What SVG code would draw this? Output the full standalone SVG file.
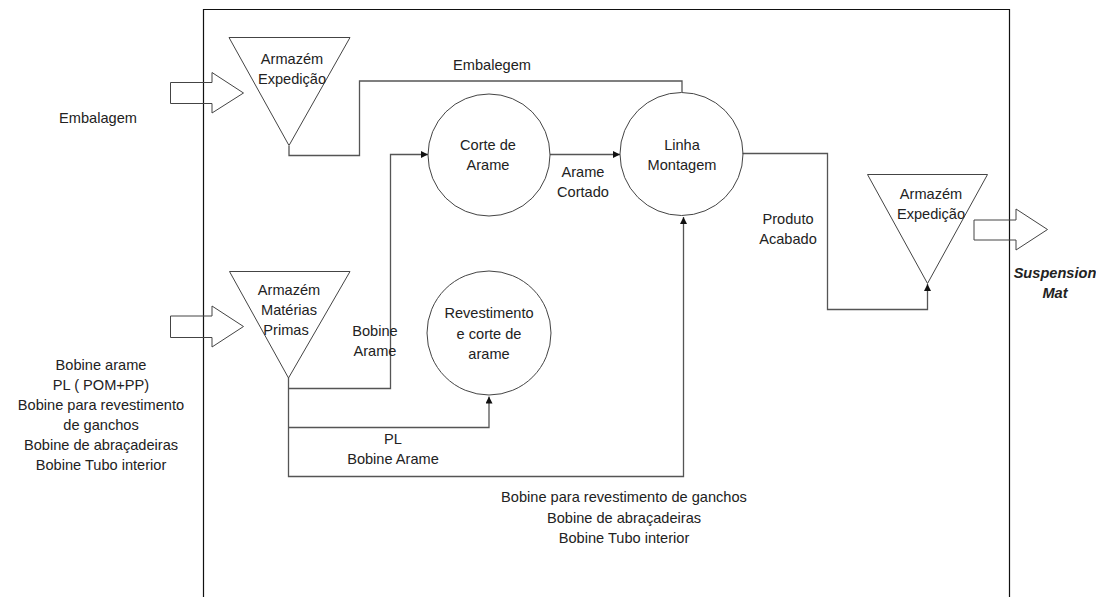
<svg xmlns="http://www.w3.org/2000/svg" width="1096" height="597" viewBox="0 0 1096 597">
<style>
  text { font-family: "Liberation Sans", Arial, sans-serif; font-size: 14.6px; fill: #222; text-anchor: middle; }
  .bi { font-weight: bold; font-style: italic; }
  .shape { fill: none; stroke: #444; stroke-width: 1; }
  .conn { fill: none; stroke: #555; stroke-width: 1.3; }
  .frame { fill: none; stroke: #111; stroke-width: 1.2; }
</style>
<defs>
  <marker id="arr" viewBox="0 0 10 10" refX="10" refY="5" markerWidth="7" markerHeight="7" markerUnits="userSpaceOnUse" orient="auto">
    <path d="M0,0 L10,5 L0,10 Z" fill="#111"/>
  </marker>
</defs>
<rect width="1096" height="597" fill="#fff"/>
<path class="frame" d="M203.5,600 V9.5 H1009.5 V600"/>

<g id="connectors">
  <path class="conn" d="M289,146 V155.5 H359.5 V81 H682 V92"/>
  <path class="conn" d="M288.5,378 V476.5 H683.5 V217" marker-end="url(#arr)"/>
  <path class="conn" d="M288.5,388.5 H390.5 V154.5 H428" marker-end="url(#arr)"/>
  <path class="conn" d="M288.5,427.5 H489 V396.5" marker-end="url(#arr)"/>
  <path class="conn" d="M550,154.5 H620" marker-end="url(#arr)"/>
  <path class="conn" d="M742.5,153.5 H827.5 V309.5 H927.5 V284" marker-end="url(#arr)"/>
  <text x="492" y="70">Embalegem</text>
  <text x="583" y="177">Arame</text>
  <text x="583" y="197">Cortado</text>
  <text x="375" y="336">Bobine</text>
  <text x="375" y="356">Arame</text>
  <text x="393" y="444">PL</text>
  <text x="393" y="464">Bobine Arame</text>
  <text x="624" y="502">Bobine para revestimento de ganchos</text>
  <text x="624" y="523">Bobine de abraçadeiras</text>
  <text x="624" y="543">Bobine Tubo interior</text>
  <text x="788" y="224">Produto</text>
  <text x="788" y="244">Acabado</text>
</g>

<g id="input-embalagem">
  <polygon class="shape" points="170.5,82.5 212,82.5 212,72.5 243.5,93 212,113 212,103.5 170.5,103.5"/>
  <text x="98" y="123">Embalagem</text>
</g>

<g id="armazem-expedicao-in">
  <polygon class="shape" points="229,37.5 350,37.5 289,145.5"/>
  <text x="292" y="64">Armazém</text>
  <text x="292" y="84">Expedição</text>
</g>

<g id="input-materias">
  <polygon class="shape" points="170.5,316 212,316 212,306 243.5,326.5 212,347 212,337.5 170.5,337.5"/>
  <text x="101" y="370">Bobine arame</text>
  <text x="101" y="390">PL ( POM+PP)</text>
  <text x="101" y="410">Bobine para revestimento</text>
  <text x="101" y="430">de ganchos</text>
  <text x="101" y="450">Bobine de abraçadeiras</text>
  <text x="101" y="470">Bobine Tubo interior</text>
</g>

<g id="armazem-materias-primas">
  <polygon class="shape" points="229.5,271.5 350,271.5 288.5,378"/>
  <text x="289" y="295">Armazém</text>
  <text x="289" y="315">Matérias</text>
  <text x="286" y="335">Primas</text>
</g>

<g id="corte-de-arame">
  <circle class="shape" cx="489" cy="155" r="61"/>
  <text x="488" y="150">Corte de</text>
  <text x="488" y="170">Arame</text>
</g>

<g id="linha-montagem">
  <circle class="shape" cx="681.5" cy="154" r="61.5"/>
  <text x="682" y="150">Linha</text>
  <text x="682" y="170">Montagem</text>
</g>

<g id="revestimento">
  <circle class="shape" cx="489" cy="333" r="62"/>
  <text x="489" y="318">Revestimento</text>
  <text x="489" y="339">e corte de</text>
  <text x="489" y="359">arame</text>
</g>

<g id="armazem-expedicao-out">
  <polygon class="shape" points="867.5,174.5 987.5,174.5 927.5,283.5"/>
  <text x="931" y="199">Armazém</text>
  <text x="931" y="219">Expedição</text>
</g>

<g id="output-suspension-mat">
  <polygon class="shape" points="974,220 1016,220 1016,209 1047.5,229.5 1016,250 1016,240 974,240"/>
  <text class="bi" x="1055" y="278">Suspension</text>
  <text class="bi" x="1055" y="298">Mat</text>
</g>
</svg>
